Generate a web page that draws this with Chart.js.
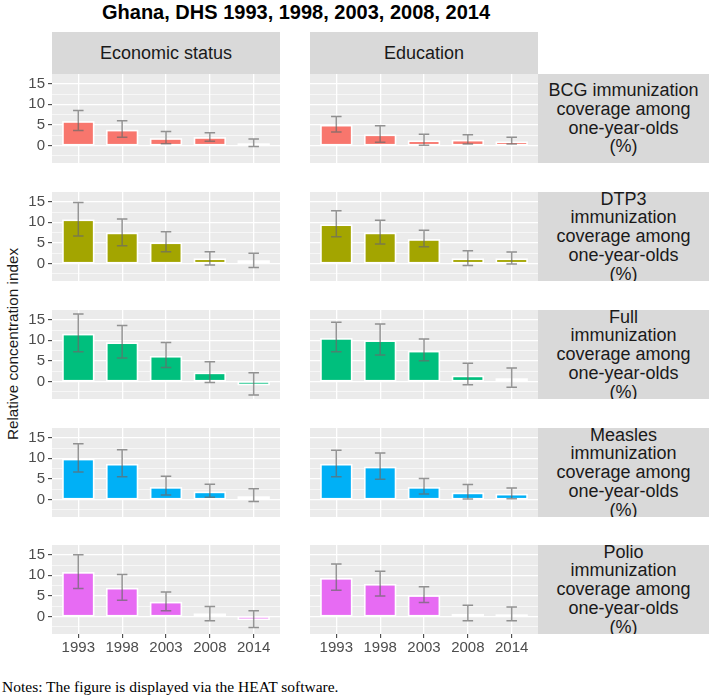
<!DOCTYPE html>
<html>
<head>
<meta charset="utf-8">
<title>Ghana, DHS immunization inequality</title>
<script src="https://cdn.jsdelivr.net/npm/chart.js@4.4.1/dist/chart.umd.min.js"></script>
<style>
  body { margin: 0; background: #fff; }
  #fig { position: relative; width: 709px; height: 699px; overflow: hidden; font-family: "Liberation Sans", Arial, sans-serif; }
  #fig canvas { position: absolute; }
  .title { position: absolute; left: 102px; top: 0px; line-height: 24px; font-size: 20px; font-weight: bold; color: #000; white-space: nowrap; }
  .colstrip { position: absolute; top: 32px; height: 42px; width: 228px; background: #d9d9d9; color: #1a1a1a; font-size: 18px; display: flex; align-items: center; justify-content: center; }
  .rowstrip { position: absolute; left: 538px; width: 171px; height: 89px; background: #d9d9d9; color: #1a1a1a; font-size: 18px; line-height: 18.7px; text-align: center; white-space: pre-line; display: flex; align-items: center; justify-content: center; overflow: hidden; }
  .ylab { position: absolute; left: -137px; top: 334px; width: 300px; height: 20px; line-height: 20px; text-align: center; font-size: 15.3px; color: #1a1a1a; transform: rotate(-90deg); }
  .notes { position: absolute; left: 2px; top: 678px; font-family: "Liberation Serif", "Times New Roman", serif; font-size: 15.5px; line-height: 18px; color: #000; white-space: nowrap; }
</style>
</head>
<body>
<div id="fig">
  <div class="title">Ghana, DHS 1993, 1998, 2003, 2008, 2014</div>
  <div class="ylab">Relative concentration index</div>
  <div class="notes">Notes: The figure is displayed via the HEAT software.</div>
</div>
<script>
// Survey years (x axis)
const years = ['1993', '1998', '2003', '2008', '2014'];
const dimensions = ['Economic status', 'Education'];
const indicators = [
    'BCG immunization\ncoverage among\none-year-olds\n(%)',
    'DTP3\nimmunization\ncoverage among\none-year-olds\n(%)',
    'Full\nimmunization\ncoverage among\none-year-olds\n(%)',
    'Measles\nimmunization\ncoverage among\none-year-olds\n(%)',
    'Polio\nimmunization\ncoverage among\none-year-olds\n(%)'
];
const yTicks = [-2.5, 0, 2.5, 5, 7.5, 10, 12.5, 15];

// Relative concentration index, with [lower, upper] 95% CI
const bcgEconomic = [5.7, 3.6, 1.55, 1.8, 0.3];
const bcgEconomicCI = [[3.65, 8.5], [2.0, 6.0], [0.4, 3.4], [1.0, 3.1], [-0.25, 1.55]];
const bcgEducation = [4.8, 2.45, 1.0, 1.15, 0.75];
const bcgEducationCI = [[3.25, 7.05], [0.75, 4.8], [0.0, 2.7], [0.35, 2.6], [0.35, 1.95]];

const dtp3Economic = [10.5, 7.3, 4.9, 1.0, 0.55];
const dtp3EconomicCI = [[6.7, 14.85], [4.3, 10.8], [2.85, 7.7], [-0.4, 2.85], [-1.0, 2.45]];
const dtp3Education = [9.3, 7.3, 5.7, 1.0, 1.0];
const dtp3EducationCI = [[6.5, 12.8], [4.7, 10.5], [4.05, 8.1], [-0.55, 3.1], [-0.15, 2.75]];

const fullEconomic = [11.4, 9.3, 6.0, 1.95, -0.75];
const fullEconomicCI = [[7.25, 16.45], [5.7, 13.6], [3.4, 9.5], [-0.25, 4.8], [-3.35, 2.1]];
const fullEducation = [10.35, 9.8, 7.25, 1.2, 0.55];
const fullEducationCI = [[7.25, 14.4], [6.45, 14.0], [5.05, 10.35], [-0.8, 4.4], [-1.45, 3.25]];

const measlesEconomic = [9.7, 8.45, 2.8, 1.7, 0.55];
const measlesEconomicCI = [[6.7, 13.55], [5.5, 12.1], [1.05, 5.65], [0.5, 3.7], [-0.5, 2.6]];
const measlesEducation = [8.45, 7.75, 2.8, 1.45, 1.15];
const measlesEducationCI = [[5.5, 11.95], [4.9, 11.3], [1.3, 5.1], [0.1, 3.6], [0.15, 2.8]];

const polioEconomic = [10.6, 6.75, 3.35, 0.5, -0.7];
const polioEconomicCI = [[6.8, 15.0], [3.95, 10.2], [1.35, 5.95], [-1.05, 2.4], [-2.7, 1.35]];
const polioEducation = [9.15, 7.7, 4.95, 0.4, 0.3];
const polioEducationCI = [[6.35, 12.75], [4.95, 11.0], [3.35, 7.2], [-1.05, 2.7], [-1.05, 2.3]];

const rows = [
    [[bcgEconomic, bcgEconomicCI], [bcgEducation, bcgEducationCI]],
    [[dtp3Economic, dtp3EconomicCI], [dtp3Education, dtp3EducationCI]],
    [[fullEconomic, fullEconomicCI], [fullEducation, fullEducationCI]],
    [[measlesEconomic, measlesEconomicCI], [measlesEducation, measlesEducationCI]],
    [[polioEconomic, polioEconomicCI], [polioEducation, polioEducationCI]]
];
const rowColors = ['#F8766D', '#A3A500', '#00BF7D', '#00B0F6', '#E76BF3'];

// Layout (pixels)
const panelTops = [74, 192, 310, 428, 545];
const panelHeight = 89;
const panelWidth = 228;
const panelLefts = [52, 310];
const yAxisWidth = 52;
const xAxisHeight = 28;

Chart.defaults.font.family = '"Liberation Sans", Arial, sans-serif';

// Grey panel background
const panelBg = {
    id: 'panelBg',
    beforeDraw(chart) {
        const { ctx, chartArea: a } = chart;
        ctx.save();
        ctx.fillStyle = '#ebebeb';
        ctx.fillRect(a.left, a.top, a.right - a.left, a.bottom - a.top);
        ctx.restore();
    }
};

// White outline centred on the bar edges (ggplot style)
const barOutline = {
    id: 'barOutline',
    afterDatasetsDraw(chart) {
        const { ctx } = chart;
        ctx.save();
        ctx.strokeStyle = '#ffffff';
        ctx.lineWidth = 1.6;
        chart.getDatasetMeta(0).data.forEach(el => {
            const { x, y, base, width } = el.getProps(['x', 'y', 'base', 'width'], true);
            ctx.strokeRect(x - width / 2, Math.min(y, base), width, Math.abs(base - y));
        });
        ctx.restore();
    }
};

// Error bars from the dataset's ci array
const errorBars = {
    id: 'errorBars',
    afterDatasetsDraw(chart) {
        const { ctx, scales: { x, y } } = chart;
        const ci = chart.data.datasets[0].ci;
        const half = x.getPixelForValue(1.12) - x.getPixelForValue(1);
        ctx.save();
        ctx.strokeStyle = 'rgba(105,105,105,0.7)';
        ctx.lineWidth = 1.5;
        ci.forEach(([lo, hi], i) => {
            const px = x.getPixelForValue(i + 1);
            const yl = y.getPixelForValue(lo);
            const yh = y.getPixelForValue(hi);
            ctx.beginPath();
            ctx.moveTo(px, yl); ctx.lineTo(px, yh);
            ctx.moveTo(px - half, yl); ctx.lineTo(px + half, yl);
            ctx.moveTo(px - half, yh); ctx.lineTo(px + half, yh);
            ctx.stroke();
        });
        ctx.restore();
    }
};

function makePanel(canvas, values, ci, color, showY, showX) {
    return new Chart(canvas, {
        type: 'bar',
        data: {
            datasets: [{
                data: values.map((v, i) => ({ x: i + 1, y: v })),
                ci: ci,
                backgroundColor: color,
                borderWidth: 0,
                inflateAmount: 0,
                categoryPercentage: 1,
                barPercentage: 0.7
            }]
        },
        options: {
            responsive: false,
            animation: false,
            events: [],
            layout: { padding: 0 },
            plugins: { legend: { display: false }, tooltip: { enabled: false } },
            scales: {
                x: {
                    type: 'linear',
                    min: 0.4,
                    max: 5.6,
                    offset: false,
                    afterBuildTicks: s => { s.ticks = years.map((y, i) => ({ value: i + 1 })); },
                    afterFit: s => { s.height = showX ? xAxisHeight : 0; s.paddingLeft = 0; s.paddingRight = 0; },
                    ticks: {
                        display: showX,
                        callback: v => years[v - 1],
                        color: '#4d4d4d',
                        font: { size: 15 },
                        padding: 1,
                        maxRotation: 0,
                        autoSkip: false
                    },
                    grid: { offset: false, color: '#ffffff', lineWidth: 1.3, drawTicks: showX, tickLength: 4, tickColor: '#333333', tickWidth: 1 },
                    border: { display: false }
                },
                y: {
                    min: -4.3,
                    max: 17.4,
                    afterBuildTicks: s => { s.ticks = yTicks.map(v => ({ value: v })); },
                    afterFit: s => { s.width = showY ? yAxisWidth : 0; s.paddingTop = 0; s.paddingBottom = 0; },
                    ticks: {
                        display: showY,
                        autoSkip: false,
                        callback: v => (v % 5 === 0 ? String(v) : ''),
                        color: '#4d4d4d',
                        font: { size: 15 },
                        padding: 3
                    },
                    grid: {
                        color: '#ffffff',
                        lineWidth: c => (c.tick && c.tick.value % 5 === 0 ? 1.3 : 0.6),
                        drawTicks: showY,
                        tickLength: 4,
                        tickWidth: 1,
                        tickColor: c => (c.tick && c.tick.value % 5 === 0 ? '#333333' : 'rgba(0,0,0,0)')
                    },
                    border: { display: false }
                }
            }
        },
        plugins: [panelBg, barOutline, errorBars]
    });
}

function build() {
    const fig = document.getElementById('fig');

    dimensions.forEach((d, j) => {
        const strip = document.createElement('div');
        strip.className = 'colstrip';
        strip.style.left = panelLefts[j] + 'px';
        strip.textContent = d;
        fig.appendChild(strip);
    });

    rows.forEach((row, r) => {
        const last = r === rows.length - 1;
        row.forEach(([values, ci], j) => {
            const canvas = document.createElement('canvas');
            const w = j === 0 ? panelWidth + yAxisWidth : panelWidth;
            const h = panelHeight + (last ? xAxisHeight : 0);
            canvas.width = w;
            canvas.height = h;
            canvas.style.width = w + 'px';
            canvas.style.height = h + 'px';
            canvas.style.left = (j === 0 ? panelLefts[0] - yAxisWidth : panelLefts[1]) + 'px';
            canvas.style.top = panelTops[r] + 'px';
            fig.appendChild(canvas);
            makePanel(canvas, values, ci, rowColors[r], j === 0, last);
        });

        const strip = document.createElement('div');
        strip.className = 'rowstrip';
        strip.style.top = panelTops[r] + 'px';
        strip.textContent = indicators[r];
        fig.appendChild(strip);
    });
}

document.addEventListener('DOMContentLoaded', build);
</script>
</body>
</html>
